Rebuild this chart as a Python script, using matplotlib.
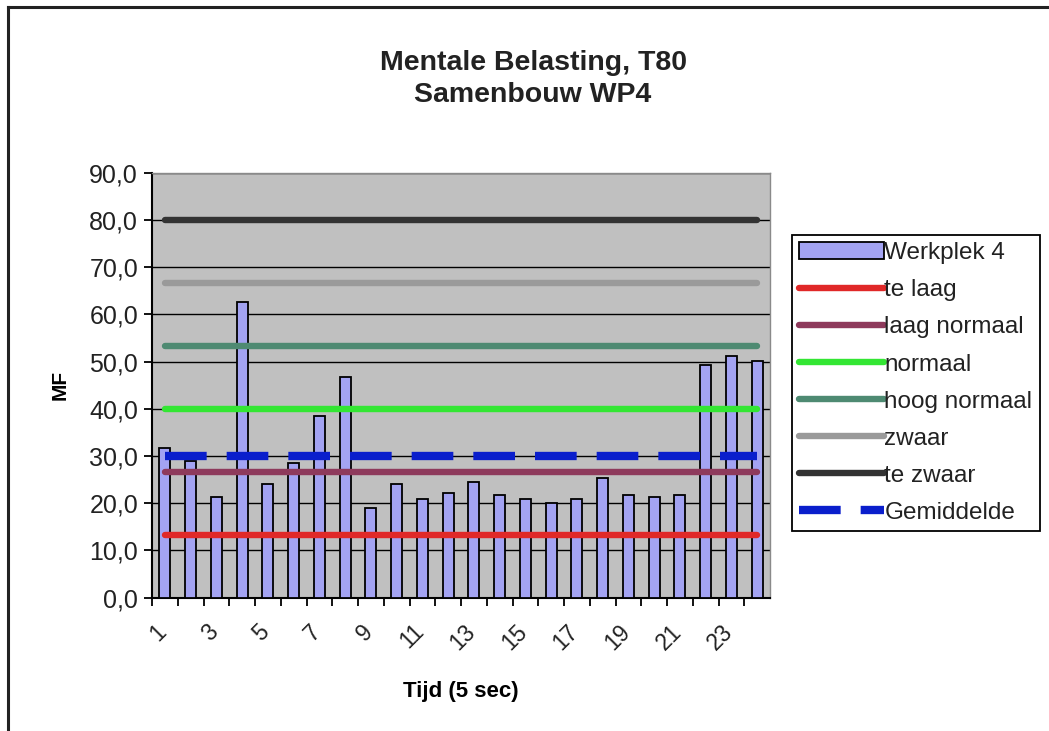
import matplotlib
matplotlib.use("Agg")
import matplotlib.pyplot as plt
from matplotlib.lines import Line2D
import matplotlib.transforms as mtransforms
import numpy as np

plt.rcParams['font.family'] = ['Liberation Sans', 'DejaVu Sans']

categories = list(range(1, 25))
werkplek4 = [31.8, 29.0, 21.3, 62.6, 24.1, 28.6, 38.5, 46.7, 19.1, 24.1, 20.8, 22.2,
             24.6, 21.8, 20.9, 20.1, 20.9, 25.4, 21.8, 21.4, 21.8, 49.3, 51.2, 50.1]
level_names = ['te laag', 'laag normaal', 'normaal', 'hoog normaal', 'zwaar', 'te zwaar']
level_values = [13.3, 26.7, 40.0, 53.3, 66.7, 80.0]
level_colors = ['#E02828', '#8E3A5C', '#33E633', '#4E8A72', '#9A9A9A', '#333333']
gemiddelde = float(np.mean(werkplek4))
yticks = [0, 10, 20, 30, 40, 50, 60, 70, 80, 90]
xticklabels = [str(c) if c % 2 == 1 else '' for c in categories]

W, H = 1049, 731
fig = plt.figure(figsize=(W / 100, H / 100), dpi=100)
fig.patch.set_facecolor('white')

# outer border (top and left visible)
fig.add_artist(Line2D([8 / W, 8 / W], [0, 1 - 7 / H], color='#222222', lw=2.2))
fig.add_artist(Line2D([8 / W, 1], [1 - 7 / H, 1 - 7 / H], color='#222222', lw=2.2))

left, right, top, bottom = 152, 770, 172.7, 597.7
ax = fig.add_axes([left / W, 1 - bottom / H, (right - left) / W, (bottom - top) / H])
ax.set_facecolor('#C0C0C0')

x = np.arange(len(categories))
bars = ax.bar(x, werkplek4, width=0.42, color='#A3A3F2', edgecolor='black', linewidth=1.3,
              label='Werkplek 4', zorder=3)

handles = [bars]
for name, val, col in zip(level_names, level_values, level_colors):
    ln, = ax.plot([x[0], x[-1]], [val, val], color=col, lw=4.6, solid_capstyle='round',
                  label=name, zorder=4)
    handles.append(ln)

gem, = ax.plot([x[0], x[-1]], [gemiddelde, gemiddelde], color='#0A1ECC', lw=6,
               linestyle=(0, (5.0, 2.4)), label='Gemiddelde', zorder=5)
handles.append(gem)

ax.set_xlim(-0.5, len(categories) - 0.5)
ax.set_ylim(0, 90)
ax.set_yticks(yticks)
ax.set_yticklabels([f"{v:.1f}".replace('.', ',') for v in yticks], fontsize=18, color='#222222')
ax.yaxis.grid(True, color='black', lw=1.0, zorder=1)
ax.set_axisbelow(True)

ax.set_xticks(x - 0.5, minor=True)
ax.set_xticks(x)
ax.set_xticklabels(xticklabels, rotation=45, ha='right', va='top', rotation_mode='anchor',
                   fontsize=16.5, color='#222222')
ax.tick_params(axis='x', which='major', length=0, pad=16)
ax.tick_params(axis='x', which='minor', length=6, width=1.3, color='black', direction='out')
ax.tick_params(axis='y', length=6, width=1.3, direction='out', pad=4)
offset = mtransforms.ScaledTranslation(-10 / 100, 0, fig.dpi_scale_trans)
for lab in ax.get_xticklabels():
    lab.set_transform(lab.get_transform() + offset)

for s in ['left', 'bottom']:
    ax.spines[s].set_color('black')
    ax.spines[s].set_linewidth(1.5)
for s in ['top', 'right']:
    ax.spines[s].set_color('#8A8A8A')
    ax.spines[s].set_linewidth(1.0)

ax.set_ylabel('MF', fontsize=15, fontweight='bold', labelpad=14)
ax.set_xlabel('Tijd (5 sec)', fontsize=16, fontweight='bold', labelpad=19)

fig.text(533 / W, 1 - 79 / H, 'Mentale Belasting, T80\nSamenbouw WP4', ha='center', va='center',
         fontsize=20.5, fontweight='bold', color='#222222', linespacing=1.3)

leg = ax.legend(handles=handles, labels=[h.get_label() for h in handles],
                loc='upper left',
                bbox_to_anchor=(792 / W, 1 - 533 / H, (1040 - 792) / W, (533 - 235) / H),
                bbox_transform=fig.transFigure, mode='expand', fontsize=17.5, frameon=True,
                fancybox=False, edgecolor='black', framealpha=1, borderaxespad=0,
                handlelength=3.5, handletextpad=0.0, labelspacing=0.62, borderpad=0.3)
leg.get_frame().set_linewidth(1.3)
for t in leg.get_texts():
    t.set_color('#222222')

fig.savefig('out.png', dpi=100, facecolor='white')
